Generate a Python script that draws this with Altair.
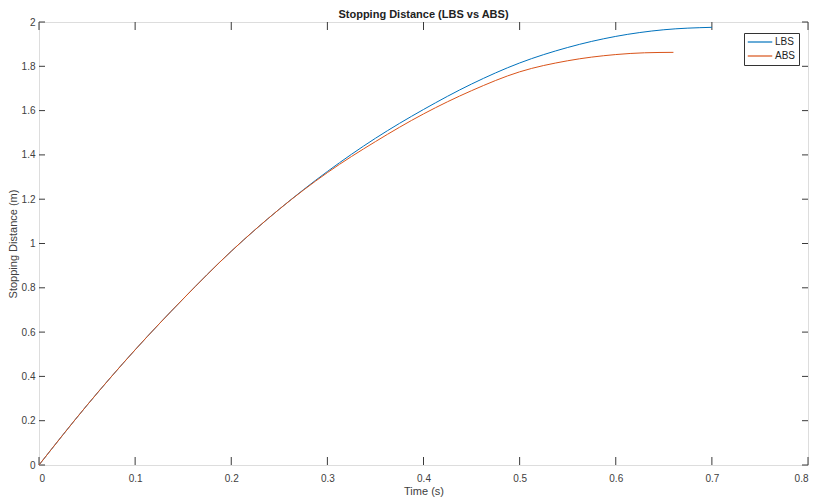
import altair as alt
import pandas as pd

# Data
lbs_t = [0, 0.05, 0.1, 0.15, 0.2, 0.25, 0.3, 0.35, 0.4, 0.45, 0.5, 0.55, 0.6, 0.65, 0.7]
lbs_d = [0, 0.27, 0.52, 0.75, 0.965, 1.155, 1.325, 1.475, 1.605, 1.72, 1.815, 1.885, 1.935, 1.965, 1.976]
abs_t = [0, 0.05, 0.1, 0.15, 0.2, 0.25, 0.3, 0.35, 0.4, 0.45, 0.5, 0.55, 0.6, 0.63, 0.66]
abs_d = [0, 0.27, 0.52, 0.75, 0.965, 1.155, 1.32, 1.46, 1.585, 1.69, 1.775, 1.825, 1.853, 1.861, 1.863]

x_ticks = [0, 0.1, 0.2, 0.3, 0.4, 0.5, 0.6, 0.7, 0.8]
y_ticks = [0, 0.2, 0.4, 0.6, 0.8, 1.0, 1.2, 1.4, 1.6, 1.8, 2.0]

series = ["LBS", "ABS"]
colors = ["#0072BD", "#D95319"]

W, H = 769, 443
FONT = "Liberation Sans"
AX = "#3a3a3a"

lbs_df = pd.DataFrame({"t": lbs_t, "d": lbs_d, "s": "LBS"})
abs_df = pd.DataFrame({"t": abs_t, "d": abs_d, "s": "ABS"})
xt_df = pd.DataFrame({"v": x_ticks})
yt_df = pd.DataFrame({"v": y_ticks})

xscale = alt.Scale(domain=[0, 0.8], nice=False, zero=False)
yscale = alt.Scale(domain=[0, 2], nice=False, zero=False)
cscale = alt.Scale(domain=series, range=colors)

xax = alt.Axis(values=x_ticks, ticks=False, domain=False, grid=False, labelPadding=8,
               labelFontSize=10, labelColor="#404040", labelFont=FONT, format="~g",
               title="Time (s)", titleFontSize=11, titleFontWeight="normal",
               titleColor="#404040", titleFont=FONT, titlePadding=2)
yax = alt.Axis(values=y_ticks, ticks=False, domain=False, grid=False, labelPadding=4,
               labelFontSize=10, labelColor="#404040", labelFont=FONT, format="~g",
               title="Stopping Distance (m)", titleFontSize=11, titleFontWeight="normal",
               titleColor="#404040", titleFont=FONT, titlePadding=3)

legend = alt.Legend(title=None, orient="none", legendX=705, legendY=11,
                    strokeColor="#333333", fillColor="white", padding=3,
                    symbolType="stroke", symbolSize=600, symbolStrokeWidth=1.2,
                    clipHeight=12, rowPadding=2,
                    labelFontSize=10, labelFont=FONT, labelColor="#222222",
                    labelOffset=2, cornerRadius=0)

lbs_line = alt.Chart(lbs_df).mark_line(strokeWidth=1, interpolate="monotone").encode(
    x=alt.X("t:Q", scale=xscale, axis=xax),
    y=alt.Y("d:Q", scale=yscale, axis=yax),
    color=alt.Color("s:N", scale=cscale, legend=legend),
)
abs_line = alt.Chart(abs_df).mark_line(strokeWidth=1, interpolate="monotone").encode(
    x=alt.X("t:Q", scale=xscale),
    y=alt.Y("d:Q", scale=yscale),
    color=alt.Color("s:N", scale=cscale, legend=legend),
)

tick_len_x = 8
tick_len_y = 6
bottom_ticks = alt.Chart(xt_df).mark_rule(color=AX, strokeWidth=1).encode(
    x=alt.X("v:Q", scale=xscale), y=alt.value(H), y2=alt.value(H - tick_len_x))
top_ticks = alt.Chart(xt_df).mark_rule(color=AX, strokeWidth=1).encode(
    x=alt.X("v:Q", scale=xscale), y=alt.value(0), y2=alt.value(tick_len_x))
left_ticks = alt.Chart(yt_df).mark_rule(color=AX, strokeWidth=1).encode(
    y=alt.Y("v:Q", scale=yscale), x=alt.value(0), x2=alt.value(tick_len_y))
right_ticks = alt.Chart(yt_df).mark_rule(color=AX, strokeWidth=1).encode(
    y=alt.Y("v:Q", scale=yscale), x=alt.value(W), x2=alt.value(W - tick_len_y))

chart = alt.layer(
    bottom_ticks, top_ticks, left_ticks, right_ticks, lbs_line, abs_line
).properties(
    width=W, height=H,
    title=alt.TitleParams("Stopping Distance (LBS vs ABS)", fontSize=11, fontWeight="bold",
                          font=FONT, color="#222222", offset=-3, anchor="middle"),
    autosize=alt.AutoSizeParams(type="none"),
    padding={"left": 31, "top": 14, "right": 3, "bottom": 37},
).configure_view(
    stroke=AX, strokeWidth=1
).configure(background="white")

chart.save("out.html", embed_options={"renderer": "svg", "actions": False})
